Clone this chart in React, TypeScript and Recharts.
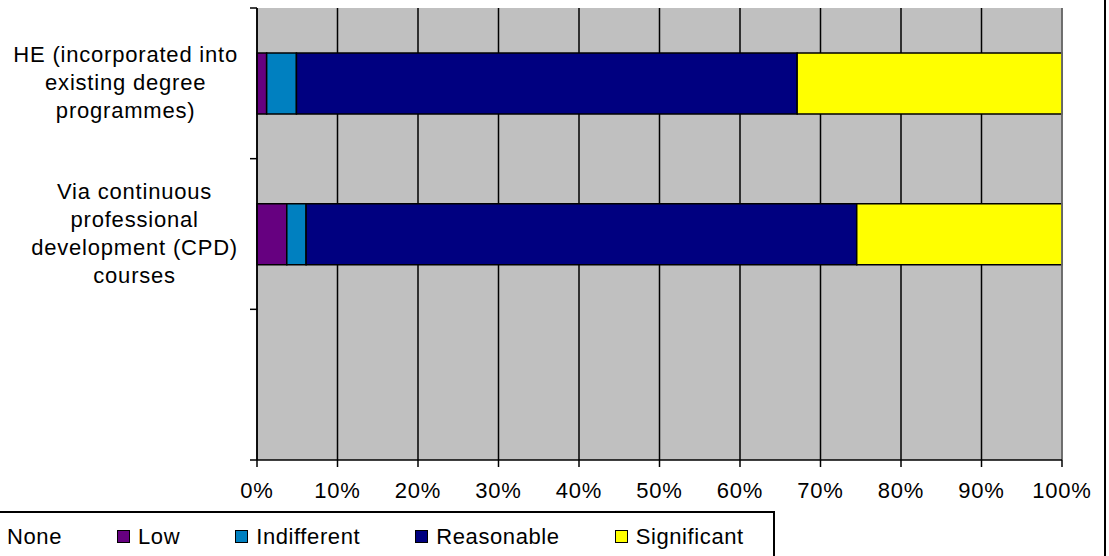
import { BarChart, Bar, XAxis, YAxis, CartesianGrid, ReferenceLine, Legend } from "recharts";

const FONT = '"Liberation Sans", Arial, sans-serif';
const PLOT_BG = "#C0C0C0";
const BORDER_GREY = "#808080";

// category labels (line breaks as in the original chart)
const categories = [
  "HE (incorporated into\nexisting degree\nprogrammes)",
  "Via continuous\nprofessional\ndevelopment (CPD)\ncourses",
  "",
];

// share of responses, %
const none = [0, 0, 0];
const low = [1.2, 3.7, 0];
const indifferent = [3.7, 2.4, 0];
const reasonable = [62.2, 68.4, 0];
const significant = [32.9, 25.5, 0];

const xTicks = [0, 10, 20, 30, 40, 50, 60, 70, 80, 90, 100];

const seriesDefs = [
  { key: "none", name: "None", color: "#FFFFFF" },
  { key: "low", name: "Low", color: "#660080" },
  { key: "indifferent", name: "Indifferent", color: "#0080C0" },
  { key: "reasonable", name: "Reasonable", color: "#000080" },
  { key: "significant", name: "Significant", color: "#FFFF00" },
];
const seriesOrder = seriesDefs.map((s) => s.name);

const data = categories.map((name, i) => ({
  name,
  none: none[i],
  low: low[i],
  indifferent: indifferent[i],
  reasonable: reasonable[i],
  significant: significant[i],
}));

// label block right-aligned against the axis, lines centred;
// small tick marks sit on the band edges (Excel style)
function CategoryTick(props: any) {
  const { x, y, payload, index } = props;
  const half = payload?.offset ?? 0;
  const isLast = index === categories.length - 1;
  return (
    <g>
      <line x1={x - 7} x2={x} y1={y - half} y2={y - half} stroke="#000" strokeWidth={1.5} />
      {isLast && <line x1={x - 7} x2={x} y1={y + half} y2={y + half} stroke="#000" strokeWidth={1.5} />}
      {payload?.value ? (
        <foreignObject x={0} y={y - 70} width={238} height={140}>
          <div
            style={{
              display: "flex",
              height: "100%",
              alignItems: "center",
              justifyContent: "flex-end",
            }}
          >
            <div
              style={{
                textAlign: "center",
                whiteSpace: "pre-line",
                fontFamily: FONT,
                fontSize: 22,
                lineHeight: "28px",
                letterSpacing: 0.8,
                color: "#000",
              }}
            >
              {payload.value}
            </div>
          </div>
        </foreignObject>
      ) : null}
    </g>
  );
}

function ChartLegend({ payload }: any) {
  const items = [...(payload || [])].sort(
    (a: any, b: any) => seriesOrder.indexOf(a.value) - seriesOrder.indexOf(b.value)
  );
  return (
    <div
      style={{
        display: "flex",
        alignItems: "center",
        fontFamily: FONT,
        fontSize: 22,
        letterSpacing: 0.6,
        lineHeight: "25px",
        color: "#000",
      }}
    >
      {items.map((entry: any) => (
        <div key={entry.value} style={{ display: "flex", alignItems: "center", marginRight: 55 }}>
          <span
            style={{
              display: "inline-block",
              width: 13,
              height: 13,
              boxSizing: "border-box",
              border: "1px solid #000",
              background: entry.color,
              marginRight: 8,
            }}
          />
          <span>{entry.value}</span>
        </div>
      ))}
    </div>
  );
}

export default function App() {
  return (
    <div
      style={{
        position: "absolute",
        left: 0,
        top: 0,
        width: 1109,
        height: 556,
        overflow: "hidden",
        background: "#fff",
        fontFamily: FONT,
      }}
    >
      <BarChart
        width={1109}
        height={556}
        data={data}
        layout="vertical"
        margin={{ top: 8, right: 47, bottom: 56, left: 0 }}
        barSize={61}
      >
        <CartesianGrid horizontal={false} stroke="#000" strokeWidth={1.5} fill={PLOT_BG} fillOpacity={1} />
        <XAxis
          type="number"
          domain={[0, 100]}
          ticks={xTicks}
          interval={0}
          tickFormatter={(v: number) => `${v}%`}
          height={40}
          tickSize={7}
          tickMargin={15}
          tick={{ fill: "#000", fontSize: 22, fontFamily: FONT, letterSpacing: 0.8 }}
          axisLine={{ stroke: "#000", strokeWidth: 1.5 }}
          tickLine={{ stroke: "#000", strokeWidth: 1.5 }}
        />
        <XAxis
          xAxisId="top"
          orientation="top"
          type="number"
          domain={[0, 100]}
          height={0}
          tick={false}
          tickLine={false}
          axisLine={{ stroke: BORDER_GREY, strokeWidth: 1.5 }}
        />
        <YAxis
          type="category"
          dataKey="name"
          width={257}
          interval={0}
          tickSize={0}
          tickMargin={0}
          tickLine={false}
          axisLine={{ stroke: "#000", strokeWidth: 1.5 }}
          tick={(p: any) => <CategoryTick {...p} />}
        />
        <ReferenceLine x={100} stroke={BORDER_GREY} strokeWidth={1.5} />
        {seriesDefs.map((s) => (
          <Bar
            key={s.key}
            dataKey={s.key}
            name={s.name}
            stackId="a"
            fill={s.color}
            stroke="#000"
            strokeWidth={1.5}
            isAnimationActive={false}
          />
        ))}
        <Legend
          layout="horizontal"
          verticalAlign="middle"
          align="center"
          content={<ChartLegend />}
          wrapperStyle={{
            left: -16,
            top: 511,
            bottom: "auto",
            width: 791,
            height: 60,
            border: "2px solid #000",
            boxSizing: "border-box",
            paddingTop: 11,
            background: "#fff",
          }}
        />
      </BarChart>
      <div style={{ position: "absolute", left: 1104, top: 0, width: 2, height: 556, background: "#000" }} />
    </div>
  );
}
